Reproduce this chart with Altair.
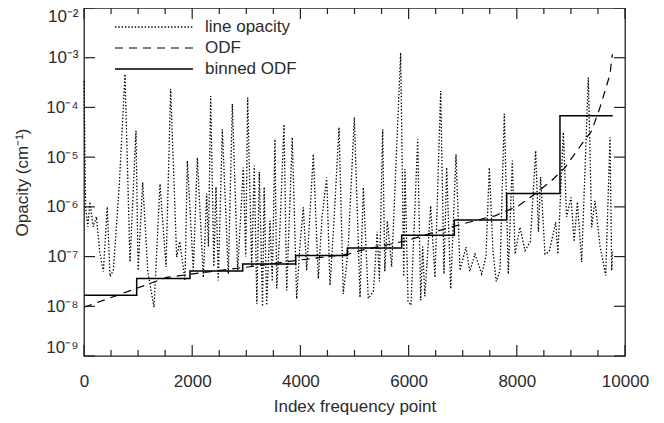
import altair as alt
import pandas as pd

# ---- data (log10 of opacity) ----
line_x = [0, 30, 70, 110, 170, 230, 290, 357, 430, 481, 542, 650, 758, 850, 961, 1000,
          1085, 1180, 1294, 1405, 1516, 1602, 1713, 1770, 1867, 1910, 2021, 2095, 2206,
          2268, 2300, 2342, 2400, 2440, 2482, 2557, 2668, 2742, 2841, 2945, 2990, 3025,
          3100, 3148, 3195, 3240, 3300, 3330, 3377, 3438, 3480, 3530, 3562, 3620, 3697,
          3747, 3850, 3931, 3990, 4054, 4116, 4239, 4331, 4400, 4486, 4547, 4620, 4714,
          4793, 4880, 4997, 5102, 5163, 5255, 5350, 5420, 5460, 5521, 5560, 5607, 5687,
          5853, 5910, 5933, 5990, 6044, 6168, 6224, 6260, 6300, 6408, 6488, 6593, 6654,
          6704, 6778, 6876, 6950, 7061, 7130, 7227, 7351, 7430, 7492, 7560, 7620, 7690,
          7769, 7843, 7917, 7967, 8059, 8152, 8250, 8349, 8400, 8440, 8521, 8600, 8718,
          8760, 8860, 8920, 9002, 9060, 9120, 9199, 9322, 9384, 9445, 9540, 9643, 9723,
          9754, 9770]
line_log = [-3.47, -6.0, -6.4, -5.9, -6.4, -6.2, -6.9, -7.30, -6.0, -7.4, -7.28, -5.6, -3.33,
            -7.11, -4.47, -7.28, -5.51, -7.3, -8.02, -5.54, -7.21, -3.63, -7.01, -6.7, -7.48,
            -5.07, -7.28, -5.01, -7.42, -5.73, -6.8, -3.77, -7.2, -5.6, -7.48, -4.44, -7.35,
            -3.93, -7.28, -5.21, -7.0, -3.80, -7.2, -5.17, -7.95, -5.3, -8.0, -5.6, -7.98,
            -6.28, -7.5, -4.64, -7.64, -6.5, -4.34, -7.68, -4.60, -7.85, -6.8, -6.01, -7.28,
            -4.94, -7.44, -6.2, -5.41, -7.58, -6.3, -4.40, -7.75, -6.9, -4.20, -7.82, -5.61,
            -7.84, -7.7, -6.5, -7.5, -4.44, -7.3, -6.28, -7.21, -2.90, -7.4, -5.24, -7.9,
            -7.98, -4.64, -7.88, -6.8, -7.8, -5.98, -7.42, -3.67, -7.35, -5.21, -7.65, -4.94,
            -7.28, -6.81, -7.3, -6.95, -7.35, -7.0, -5.21, -6.9, -7.5, -7.28, -4.13, -7.35,
            -5.07, -6.95, -6.41, -6.88, -6.7, -4.87, -6.5, -5.4, -6.95, -6.9, -6.31, -6.95,
            -4.50, -6.2, -5.81, -6.7, -5.9, -7.11, -3.40, -6.41, -5.88, -6.8, -7.38, -4.60,
            -7.28, -6.9]

odf_x = [0, 943, 1528, 2200, 3037, 3900, 4886, 5102, 5965, 6765, 7473, 7597, 8028, 8336,
         8645, 8891, 9199, 9384, 9538, 9630, 9723, 9766]
odf_log = [-8.02, -7.65, -7.42, -7.32, -7.21, -7.08, -6.95, -6.88, -6.68, -6.41, -6.21, -6.18,
           -5.98, -5.74, -5.47, -5.21, -4.74, -4.47, -4.00, -3.67, -3.33, -2.93]

bin_x = [0, 974, 1959, 2933, 3913, 4867, 5872, 6845, 7813, 8798, 9773]
bin_log = [-7.777, -7.442, -7.288, -7.147, -6.98, -6.826, -6.572, -6.263, -5.729, -4.169, -4.169]

x_major = [0, 2000, 4000, 6000, 8000, 10000]
x_minor = [500, 1000, 1500, 2500, 3000, 3500, 4500, 5000, 5500, 6500, 7000, 7500, 8500, 9000, 9500]
y_ticks = [1e-9, 1e-8, 1e-7, 1e-6, 1e-5, 1e-4, 1e-3, 1e-2]

legend_labels = ["line opacity", "ODF", "binned ODF"]

# ---- tables ----
line_df = pd.DataFrame({"x": line_x, "y": [10 ** v for v in line_log]})
odf_df = pd.DataFrame({"x": odf_x, "y": [10 ** v for v in odf_log]})
bin_df = pd.DataFrame({"x": bin_x, "y": [10 ** v for v in bin_log]})
xmaj_df = pd.DataFrame({"x": x_major})
xmin_df = pd.DataFrame({"x": x_minor})
yt_df = pd.DataFrame({"y": y_ticks})

W, H = 541, 348
FONT = "Liberation Sans"
TXT = "#2b2b2b"
DOT = [1.4, 1.9]

xscale = alt.Scale(domain=[0, 10000], nice=False, zero=False)
yscale = alt.Scale(type="log", domain=[1e-9, 1e-2], nice=False)

sup = "['\u207b\u2079','\u207b\u2078','\u207b\u2077','\u207b\u2076','\u207b\u2075','\u207b\u2074','\u207b\u00b3','\u207b\u00b2']"

xaxis = alt.Axis(values=x_major, format="d", ticks=False, domain=False, grid=False,
                 labelFont=FONT, labelFontSize=17, labelColor=TXT, labelPadding=17,
                 title="Index frequency point", titleFont=FONT, titleFontSize=17,
                 titleFontWeight="normal", titleColor=TXT, titlePadding=9, labelFlush=False)
yaxis = alt.Axis(values=y_ticks, ticks=False, domain=False, grid=False,
                 labelExpr="'10' + " + sup + "[round(log(datum.value)/LN10)+9]",
                 labelFont=FONT, labelFontSize=17, labelColor=TXT, labelPadding=6,
                 labelFlush=True,
                 title="Opacity (cm\u207b\u00b9)", titleFont=FONT, titleFontSize=17,
                 titleFontWeight="normal", titleColor=TXT, titlePadding=14)

base_x = alt.X("x:Q", scale=xscale, axis=xaxis)
base_y = alt.Y("y:Q", scale=yscale, axis=yaxis)

dotted = alt.Chart(line_df).mark_line(color="black", strokeWidth=1.3, strokeDash=DOT).encode(
    x=base_x, y=base_y)
dashed = alt.Chart(odf_df).mark_line(color="black", strokeWidth=1.2, strokeDash=[8, 6]).encode(
    x=alt.X("x:Q", scale=xscale), y=alt.Y("y:Q", scale=yscale))
binned = alt.Chart(bin_df).mark_line(color="black", strokeWidth=1.5, interpolate="step-after").encode(
    x=alt.X("x:Q", scale=xscale), y=alt.Y("y:Q", scale=yscale))

tick_color = "#222"
xmaj_b = alt.Chart(xmaj_df).mark_rule(color=tick_color, strokeWidth=1.2).encode(
    x=alt.X("x:Q", scale=xscale), y=alt.value(H), y2=alt.value(H - 11))
xmaj_t = alt.Chart(xmaj_df).mark_rule(color=tick_color, strokeWidth=1.2).encode(
    x=alt.X("x:Q", scale=xscale), y=alt.value(0), y2=alt.value(11))
xmin_b = alt.Chart(xmin_df).mark_rule(color=tick_color, strokeWidth=1.2).encode(
    x=alt.X("x:Q", scale=xscale), y=alt.value(H), y2=alt.value(H - 6))
xmin_t = alt.Chart(xmin_df).mark_rule(color=tick_color, strokeWidth=1.2).encode(
    x=alt.X("x:Q", scale=xscale), y=alt.value(0), y2=alt.value(6))
y_l = alt.Chart(yt_df).mark_rule(color=tick_color, strokeWidth=1.2).encode(
    y=alt.Y("y:Q", scale=yscale), x=alt.value(0), x2=alt.value(11))
y_r = alt.Chart(yt_df).mark_rule(color=tick_color, strokeWidth=1.2).encode(
    y=alt.Y("y:Q", scale=yscale), x=alt.value(W - 11), x2=alt.value(W))

# ---- legend ----
leg_y = [19, 40, 61]
leg_dotted = alt.Chart(pd.DataFrame({"l": [legend_labels[0]]})).mark_rule(
    color="black", strokeWidth=1.3, strokeDash=DOT).encode(
    x=alt.value(31), x2=alt.value(109), y=alt.value(leg_y[0]))
leg_dashed = alt.Chart(pd.DataFrame({"l": [legend_labels[1]]})).mark_rule(
    color="black", strokeWidth=1.2, strokeDash=[8, 6]).encode(
    x=alt.value(31), x2=alt.value(109), y=alt.value(leg_y[1]))
leg_solid = alt.Chart(pd.DataFrame({"l": [legend_labels[2]]})).mark_rule(
    color="black", strokeWidth=1.5).encode(
    x=alt.value(31), x2=alt.value(109), y=alt.value(leg_y[2]))
leg_texts = []
for lab, yy in zip(legend_labels, leg_y):
    leg_texts.append(alt.Chart(pd.DataFrame({"l": [lab]})).mark_text(
        align="left", baseline="middle", font=FONT, fontSize=17, color=TXT).encode(
        x=alt.value(121), y=alt.value(yy), text="l:N"))

chart = alt.layer(dotted, dashed, binned, xmaj_b, xmaj_t, xmin_b, xmin_t, y_l, y_r,
                  leg_dotted, leg_dashed, leg_solid, *leg_texts).properties(
    width=W, height=H,
    autosize=alt.AutoSizeParams(type="none"),
    padding={"left": 76, "top": 0, "right": 30, "bottom": 59},
    background="white",
).configure_view(stroke="#222", strokeWidth=1.3)

chart.save("out.html", embed_options={"renderer": "svg", "actions": False})
